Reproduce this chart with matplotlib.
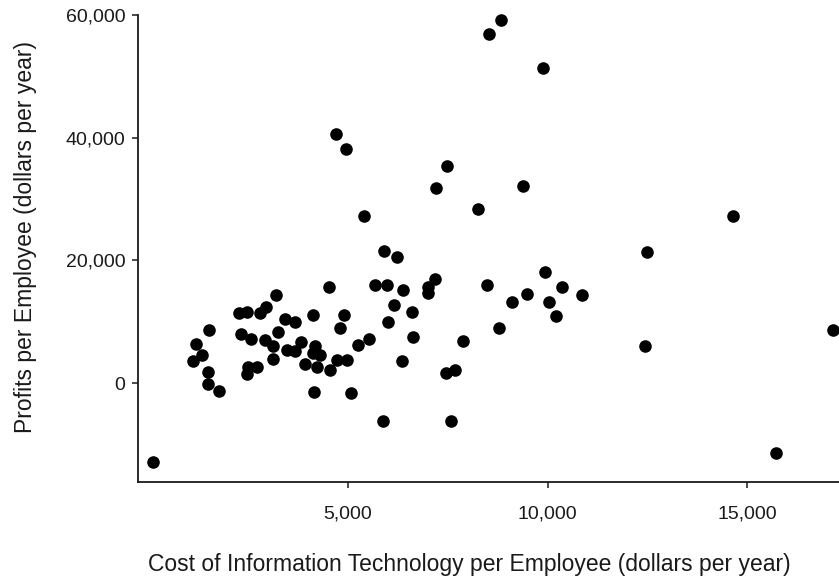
import matplotlib
matplotlib.use("Agg")
import matplotlib.pyplot as plt
from matplotlib.ticker import FuncFormatter

plt.rcParams['font.family'] = ['Liberation Sans', 'DejaVu Sans']

# IT cost per employee (dollars per year)
it_cost = [
    110, 1190, 1115, 1340, 1520, 1490, 1490, 1770, 2270, 2470,
    2790, 2940, 3200, 2320, 2570, 2490, 2470, 2720, 2920, 3120,
    3120, 3250, 3420, 3670, 3470, 3670, 3820, 3920, 4120, 4170,
    4120, 4300, 4220, 4150, 4550, 4720, 4970, 4900, 4800, 5250,
    5530, 5070, 5880, 5680, 5980, 6150, 6380, 6000, 6600, 6630,
    6350, 4520, 4700, 4950, 5400, 5900, 6230, 7180, 7000, 7000,
    7480, 7200, 8260, 8480, 7880, 7460, 7680, 7580, 8780, 9110,
    9490, 10040, 10210, 9940, 10360, 10860, 8830, 8530, 9890, 9390,
    12490, 12440, 14650, 15730, 17150,
]

# profits per employee (dollars per year)
profit = [
    -12900, 6360, 3590, 4560, 8640, 1790, -160, -1300, 11410, 11570,
    11410, 12390, 14340, 7990, 7170, 2610, 1470, 2610, 7010, 6030,
    3910, 8310, 10430, 9940, 5380, 5220, 6680, 3100, 11080, 6030,
    4890, 4560, 2610, -1470, 2120, 3750, 3750, 11080, 8970, 6190,
    7170, -1630, -6190, 15970, 15970, 12710, 15160, 9940, 11570, 7500,
    3590, 15650, 40590, 38140, 27220, 21520, 20540, 16950, 15650, 14670,
    35370, 31790, 28360, 15970, 6850, 1630, 2120, -6190, 8970, 13200,
    14510, 13200, 10920, 18090, 15650, 14340, 59170, 56890, 51350, 32110,
    21350, 6030, 27220, -11410, 8640,
]

x_ticks = [5000, 10000, 15000]
y_ticks = [0, 20000, 40000, 60000]

fig = plt.figure(figsize=(8.39, 5.76), dpi=100)
ax = fig.add_axes([0.1645, 0.163, 0.8355, 0.811])

ax.scatter(it_cost, profit, s=82, c='black', linewidths=0, clip_on=False, zorder=3)

ax.set_xlim(-263, 17300)
ax.set_ylim(-16150, 60000)
ax.set_xticks(x_ticks)
ax.set_yticks(y_ticks)

comma = FuncFormatter(lambda v, pos: f"{int(v):,}")
ax.xaxis.set_major_formatter(comma)
ax.yaxis.set_major_formatter(comma)

for side in ['top', 'right']:
    ax.spines[side].set_visible(False)
for side in ['left', 'bottom']:
    ax.spines[side].set_linewidth(1.3)
    ax.spines[side].set_color('#1a1a1a')

ax.tick_params(axis='both', direction='out', length=4, width=1.1,
               labelsize=14, colors='#1a1a1a')
ax.tick_params(axis='y', pad=5)
ax.tick_params(axis='x', pad=13)

ax.set_xlabel("Cost of Information Technology per Employee (dollars per year)",
              fontsize=16.5, color='#1a1a1a')
ax.set_ylabel("Profits per Employee (dollars per year)",
              fontsize=16.5, color='#1a1a1a')
ax.xaxis.set_label_coords(0.472, -0.152)
ax.yaxis.set_label_coords(-0.144, 0.525)

fig.savefig("out.png", dpi=100)
